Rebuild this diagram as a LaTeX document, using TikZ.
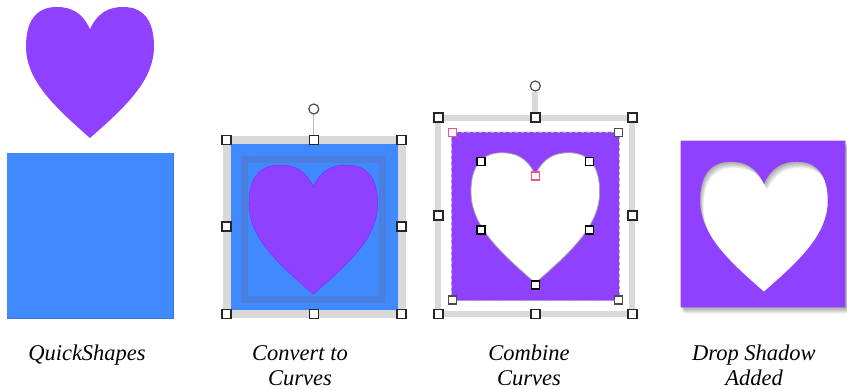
\documentclass[tikz,border=0pt]{standalone}
\usepackage{fontspec}
\setmainfont{Liberation Serif}
\definecolor{hpurple}{HTML}{9040FF}
\definecolor{hblue}{HTML}{4189FF}
\definecolor{hblueD}{HTML}{4A7FE0}
\definecolor{fgray}{HTML}{D9D9D9}
\definecolor{hpink}{HTML}{F0508A}
\newcommand{\hrtpath}[4]{%
 ({#1},{#2+0.17*#4}) .. controls ({#1-0.06*#3},{#2+0.04*#4}) and ({#1-0.15*#3},{#2}) .. ({#1-0.26*#3},{#2})
 .. controls ({#1-0.43*#3},{#2}) and ({#1-0.5*#3},{#2+0.12*#4}) .. ({#1-0.5*#3},{#2+0.3*#4})
 .. controls ({#1-0.5*#3},{#2+0.56*#4}) and ({#1-0.28*#3},{#2+0.76*#4}) .. ({#1},{#2+#4})
 .. controls ({#1+0.28*#3},{#2+0.76*#4}) and ({#1+0.5*#3},{#2+0.56*#4}) .. ({#1+0.5*#3},{#2+0.3*#4})
 .. controls ({#1+0.5*#3},{#2+0.12*#4}) and ({#1+0.43*#3},{#2}) .. ({#1+0.26*#3},{#2})
 .. controls ({#1+0.15*#3},{#2}) and ({#1+0.06*#3},{#2+0.04*#4}) .. ({#1},{#2+0.17*#4}) -- cycle}
\tikzset{
  handle/.style={draw=black!85, fill=white, line width=1.4pt, minimum size=9pt, inner sep=0pt, shape=rectangle},
  shandle/.style={draw=black!70, fill=white, line width=1.2pt, minimum size=8pt, inner sep=0pt, shape=rectangle},
  phandle/.style={draw=hpink, fill=white, line width=1.1pt, minimum size=8pt, inner sep=0pt, shape=rectangle},
  rot/.style={draw=black!70, fill=white, line width=1.2pt, circle, minimum size=10pt, inner sep=0pt},
  lbl/.style={font=\fontsize{22.5}{25}\selectfont\itshape, align=center, inner sep=0pt, anchor=base}
}
\begin{document}
\begin{tikzpicture}[x=1pt,y=-1pt]
\useasboundingbox (0,0) rectangle (847,390);
% Panel 1
\fill[hpurple] \hrtpath{90}{7}{128}{131};
\fill[hblue] (7,153) rectangle (173,318);
\draw[hblue!85!black, line width=0.6pt] (7,318) -- (173,318) -- (173,153);
\node[lbl] (l1) at (87,360) {QuickShapes};
% Panel 2
\draw[fgray, line width=8pt] (226.5,140) rectangle (401.5,314);
\fill[hblue] (230.5,144) rectangle (397.5,310);
\draw[hblueD, line width=7pt] (244.2,159.2) rectangle (382.5,299.5);
\fill[hpurple] \hrtpath{313.3}{165}{128.7}{129};
\draw[hpurple!80!blue, line width=0.5pt] \hrtpath{313.3}{165}{128.7}{129};
\node[rot] (r2) at (313.8,109) {};
\node[handle] (h2a) at (226.3,140) {};
\node[handle] (h2b) at (313.8,140) {};
\node[handle] (h2c) at (401.3,140) {};
\node[handle] (h2d) at (226.3,226.7) {};
\node[handle] (h2e) at (401.3,226.7) {};
\node[handle] (h2f) at (226.3,314) {};
\node[handle] (h2g) at (313.8,314) {};
\node[handle] (h2h) at (401.3,314) {};
\draw[fgray!70!gray, line width=1pt] (r2) -- (h2b);
\node[lbl] (l2) at (300,385) {Convert to\\Curves};
% Panel 3
\draw[fgray, line width=6pt] (438.3,117.7) rectangle (632.3,314.3);
\node[rot] (r3) at (535.3,86) {};
\fill[hpurple, even odd rule] (451.7,132) rectangle (619,300.7) \hrtpath{535.3}{152.7}{128.7}{130.3};
\draw[black!35, line width=0.8pt] \hrtpath{535.3}{152.7}{128.7}{130.3};
\draw[black!35, dashed, line width=0.6pt] (451.7,132) rectangle (619,300.7);
\node[handle] (h3a) at (438.3,117.7) {};
\node[handle] (h3b) at (535.3,117.7) {};
\node[handle] (h3c) at (632.3,117.7) {};
\node[handle] (h3d) at (438.3,215.7) {};
\node[handle] (h3e) at (632.3,215.7) {};
\node[handle] (h3f) at (438.3,314.3) {};
\node[handle] (h3g) at (535.3,314.3) {};
\node[handle] (h3h) at (632.3,314.3) {};
\draw[fgray, line width=6pt] (r3) -- (h3b);
\node[phandle] (s3a) at (452.7,132.7) {};
\node[shandle] (s3b) at (618.3,132.7) {};
\node[shandle] (s3c) at (452.7,300) {};
\node[shandle] (s3d) at (618.3,300) {};
\node[shandle,draw=black] (k1) at (481,161.7) {};
\node[shandle,draw=black] (k2) at (589.7,161.7) {};
\node[phandle] (k3) at (535.3,176) {};
\node[shandle,draw=black] (k4) at (481,230) {};
\node[shandle,draw=black] (k5) at (589.7,230) {};
\node[shandle,draw=black] (k6) at (535.3,285) {};
\node[lbl] (l3) at (529,385) {Combine\\Curves};
% Panel 4
\foreach \i in {1,...,7}{
  \fill[black, opacity=0.055, even odd rule, shift={(0.5*\i,0.9*\i)}] (680.7,140.7) rectangle (845.3,307.3) \hrtpath{763.9}{161.7}{127.7}{130};
}
\fill[hpurple, even odd rule] (680.7,140.7) rectangle (845.3,307.3) \hrtpath{763.9}{161.7}{127.7}{130};
\node[lbl] (l4) at (754,385) {Drop Shadow\\Added};
\end{tikzpicture}
\end{document}
